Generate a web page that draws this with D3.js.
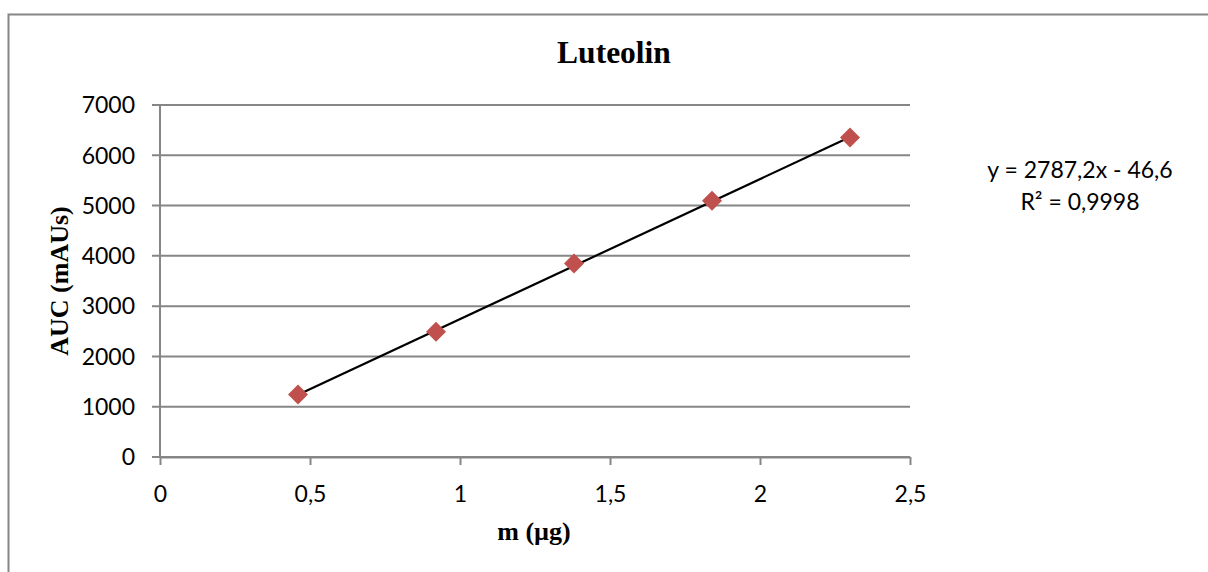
<!DOCTYPE html>
<html>
<head>
<meta charset="utf-8">
<script src="https://cdn.jsdelivr.net/npm/d3@7"></script>
<style>
  body { margin: 0; background: #fff; }
</style>
</head>
<body>
<script>
const width = 1208;
const height = 572;
const margin = { left: 160, top: 105, right: 298, bottom: 115 };

// data
const massValues = [0.46, 0.92, 1.38, 1.84, 2.30];
const aucValues = [1245, 2490, 3850, 5095, 6355];
const xTicks = [0, 0.5, 1, 1.5, 2, 2.5];
const yTicks = [0, 1000, 2000, 3000, 4000, 5000, 6000, 7000];
const trendCoef = [2787.2, -46.6];
const eqLines = ["y = 2787,2x - 46,6", "R² = 0,9998"];

const fmt = d => String(d).replace(".", ",");

const svg = d3.select("body").append("svg")
    .attr("width", width)
    .attr("height", height);

// chart border (only left and top visible)
svg.append("rect")
    .attr("x", 8.5)
    .attr("y", 14.5)
    .attr("width", 1230)
    .attr("height", 600)
    .attr("fill", "white")
    .attr("stroke", "#868686")
    .attr("stroke-width", 2);

const x = d3.scaleLinear().domain([0, 2.5]).range([margin.left, width - margin.right]);
const y = d3.scaleLinear().domain([0, 7000]).range([height - margin.bottom, margin.top]);

// horizontal gridlines
svg.append("g")
    .selectAll("line")
    .data(yTicks)
    .join("line")
    .attr("x1", margin.left - 8)
    .attr("x2", width - margin.right)
    .attr("y1", d => y(d))
    .attr("y2", d => y(d))
    .attr("stroke", "#868686")
    .attr("stroke-width", 2);

// y axis line
svg.append("line")
    .attr("x1", x(0)).attr("x2", x(0))
    .attr("y1", y(7000)).attr("y2", y(0))
    .attr("stroke", "#868686")
    .attr("stroke-width", 2);

// x axis with ticks
const xAxis = svg.append("g")
    .attr("transform", `translate(0,${y(0)})`)
    .call(d3.axisBottom(x).tickValues(xTicks).tickFormat(fmt).tickSize(8).tickSizeOuter(0));
xAxis.select(".domain").attr("stroke", "#868686").attr("stroke-width", 2);
xAxis.selectAll(".tick line").attr("stroke", "#868686").attr("stroke-width", 2);
xAxis.selectAll(".tick text")
    .attr("y", 29)
    .attr("dy", "0.71em")
    .attr("fill", "black")
    .style("font-family", "Lato, sans-serif")
    .style("font-size", "23px");

// y tick labels
svg.append("g")
    .selectAll("text")
    .data(yTicks)
    .join("text")
    .attr("x", 135)
    .attr("y", d => y(d))
    .attr("dy", "0.36em")
    .attr("text-anchor", "end")
    .style("font-family", "Lato, sans-serif")
    .style("font-size", "23px")
    .text(d => d);

// trendline
const xr = d3.extent(massValues);
svg.append("line")
    .attr("x1", x(xr[0]))
    .attr("y1", y(trendCoef[0] * xr[0] + trendCoef[1]))
    .attr("x2", x(xr[1]))
    .attr("y2", y(trendCoef[0] * xr[1] + trendCoef[1]))
    .attr("stroke", "black")
    .attr("stroke-width", 2.2);

// markers
svg.append("g")
    .selectAll("path")
    .data(massValues)
    .join("path")
    .attr("transform", (d, i) => `translate(${x(d)},${y(aucValues[i])}) rotate(45)`)
    .attr("d", d3.symbol().type(d3.symbolSquare).size(200))
    .attr("fill", "#c0504d");

// equation
svg.append("g")
    .selectAll("text")
    .data(eqLines)
    .join("text")
    .attr("x", 1080)
    .attr("y", (d, i) => 178 + i * 32)
    .attr("text-anchor", "middle")
    .style("font-family", "Lato, sans-serif")
    .style("font-size", "23px")
    .text(d => d);

// title
svg.append("text")
    .attr("x", 614)
    .attr("y", 63)
    .attr("text-anchor", "middle")
    .style("font-family", "'Liberation Serif', serif")
    .style("font-weight", "bold")
    .style("font-size", "31.5px")
    .text("Luteolin");

// axis titles
svg.append("text")
    .attr("x", 534)
    .attr("y", 540)
    .attr("text-anchor", "middle")
    .style("font-family", "'Liberation Serif', serif")
    .style("font-weight", "bold")
    .style("font-size", "26px")
    .text("m (µg)");

svg.append("text")
    .attr("transform", "translate(68,281) rotate(-90)")
    .attr("text-anchor", "middle")
    .style("font-family", "'Liberation Serif', serif")
    .style("font-weight", "bold")
    .style("font-size", "26px")
    .text("AUC (mAUs)");
</script>
</body>
</html>
